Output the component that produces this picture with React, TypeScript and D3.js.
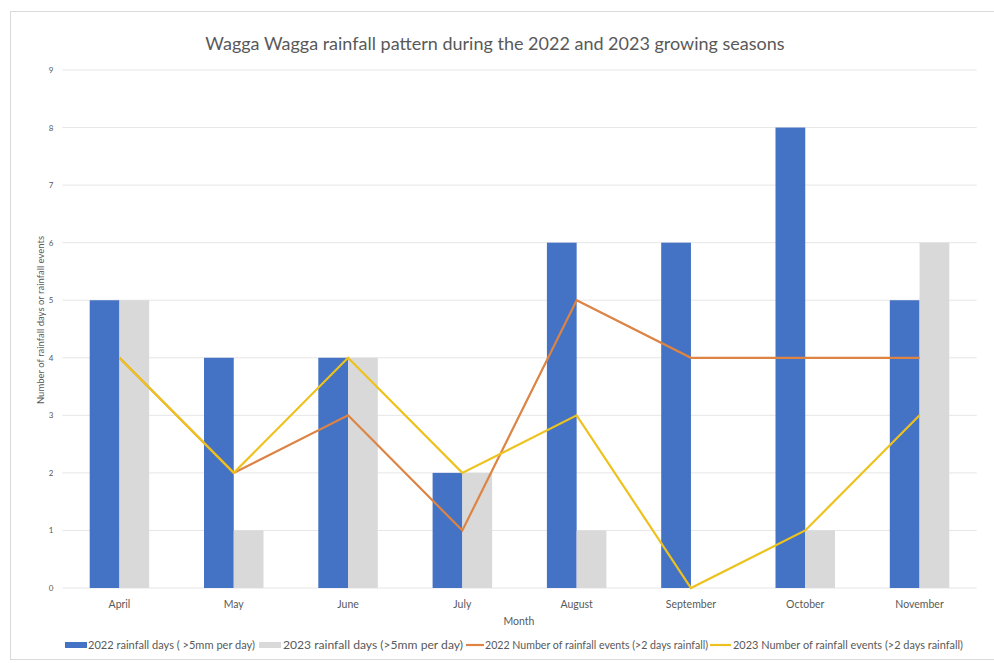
import React from "react";
import * as d3 from "d3";

const months = ["April", "May", "June", "July", "August", "September", "October", "November"];
const days2022 = [5, 4, 4, 2, 6, 6, 8, 5];
const days2023 = [5, 1, 4, 2, 1, 0, 1, 6];
const events2022 = [4, 2, 3, 1, 5, 4, 4, 4];
const events2023 = [4, 2, 4, 2, 3, 0, 1, 3];
const yTicks = [0, 1, 2, 3, 4, 5, 6, 7, 8, 9];

const legendLabels = [
  "2022 rainfall days ( >5mm per day)",
  "2023 rainfall days (>5mm per day)",
  "2022 Number of rainfall events (>2 days rainfall)",
  "2023 Number of rainfall events (>2 days rainfall)",
];

const W = 994;
const H = 663;
const FONT = "Lato, 'Open Sans', sans-serif";
const TEXT = "#595959";
const BLUE = "#4472C4";
const GRAY = "#D9D9D9";
const ORANGE = "#DD8444";
const YELLOW = "#EDC21E";

export default function App() {
  const left = 62.3;
  const right = 976.7;
  const top = 70;
  const bottom = 588;

  const x = d3.scaleBand<string>().domain(months).range([left, right]).paddingInner(0).paddingOuter(0);
  const sub = d3.scaleBand<string>().domain(["a", "b"]).range([0, 59.5]);
  const y = d3.scaleLinear().domain([0, 9]).range([bottom, top]);
  const bw = x.bandwidth();
  const offset = (bw - 59.5) / 2;
  const cx = (m: string) => (x(m) as number) + bw / 2;

  const line = d3
    .line<number>()
    .x((_, i) => cx(months[i]))
    .y((d) => y(d));

  const legendY = 645;

  return (
    <svg
      width={W}
      height={H}
      style={{ position: "absolute", left: 0, top: 0, display: "block", background: "#fff" }}
      fontFamily={FONT}
    >
      <rect x={10.5} y={11.5} width={1000} height={648} fill="#fff" stroke="#d9d9d9" strokeWidth={1} />
      <text x={495} y={50} textAnchor="middle" fontSize={18} fill={TEXT}>
        Wagga Wagga rainfall pattern during the 2022 and 2023 growing seasons
      </text>

      {yTicks.map((t) => (
        <g key={t}>
          <line x1={left} x2={right} y1={y(t)} y2={y(t)} stroke="#e6e6e6" strokeWidth={1} />
          <text x={51} y={y(t) + 3} textAnchor="middle" fontSize={8} fill={TEXT}>
            {t}
          </text>
        </g>
      ))}

      {months.map((m, i) => (
        <g key={m}>
          <rect
            x={(x(m) as number) + offset + (sub("a") as number)}
            y={y(days2022[i])}
            width={sub.bandwidth()}
            height={bottom - y(days2022[i])}
            fill={BLUE}
          />
          <rect
            x={(x(m) as number) + offset + (sub("b") as number)}
            y={y(days2023[i])}
            width={sub.bandwidth()}
            height={bottom - y(days2023[i])}
            fill={GRAY}
          />
          <text x={cx(m)} y={608} textAnchor="middle" fontSize={10.5} fill={TEXT}>
            {m}
          </text>
        </g>
      ))}

      <path d={line(events2022) || ""} fill="none" stroke={ORANGE} strokeWidth={2.2} />
      <path d={line(events2023) || ""} fill="none" stroke={YELLOW} strokeWidth={2.2} />

      <text x={519} y={625} textAnchor="middle" fontSize={10.5} fill={TEXT}>
        Month
      </text>
      <text
        transform={`translate(44, 320) rotate(-90)`}
        textAnchor="middle"
        fontSize={9.5}
        fill={TEXT}
      >
        Number of rainfall days or rainfall events
      </text>

      <g fontSize={11} fill={TEXT}>
        <rect x={65} y={legendY - 3} width={22} height={6} fill={BLUE} />
        <text x={88} y={legendY + 4} textLength={167} lengthAdjust="spacingAndGlyphs">{legendLabels[0]}</text>
        <rect x={259} y={legendY - 3} width={22} height={6} fill={GRAY} />
        <text x={283} y={legendY + 4} textLength={180} lengthAdjust="spacingAndGlyphs">{legendLabels[1]}</text>
        <line x1={466} x2={484} y1={legendY} y2={legendY} stroke={ORANGE} strokeWidth={2.2} />
        <text x={485} y={legendY + 4} textLength={223} lengthAdjust="spacingAndGlyphs">{legendLabels[2]}</text>
        <line x1={710} x2={731} y1={legendY} y2={legendY} stroke={YELLOW} strokeWidth={2.2} />
        <text x={733} y={legendY + 4} textLength={230} lengthAdjust="spacingAndGlyphs">{legendLabels[3]}</text>
      </g>
    </svg>
  );
}
